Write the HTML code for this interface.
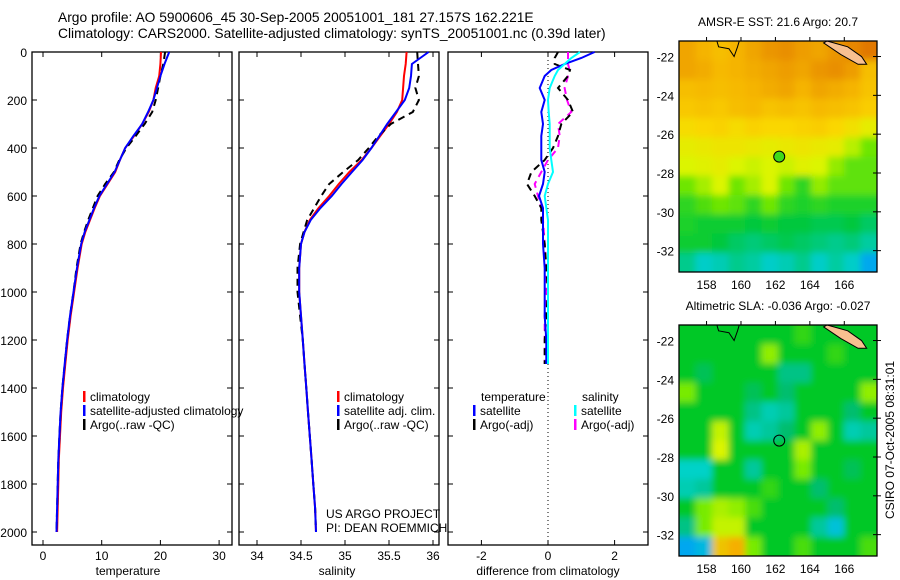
<!DOCTYPE html>
<html><head><meta charset="utf-8">
<style>
html,body{margin:0;padding:0;background:#fff;}
svg{display:block;font-family:"Liberation Sans",sans-serif;}
</style></head>
<body>
<svg id="c" width="900" height="580" viewBox="0 0 900 580" xmlns="http://www.w3.org/2000/svg">
<defs>
<filter id="blur" x="-5%" y="-5%" width="110%" height="110%"><feGaussianBlur stdDeviation="3.5"/></filter>
<clipPath id="clip-sst-map"><rect x="679" y="41" width="198" height="231"/></clipPath>
<clipPath id="clip-sla-map"><rect x="679" y="325" width="198" height="231"/></clipPath>
</defs>
<text x="58" y="22" font-size="13.8">Argo profile: AO 5900606_45 30-Sep-2005 20051001_181 27.157S 162.221E</text>
<text x="58" y="38" font-size="13.8">Climatology: CARS2000. Satellite-adjusted climatology: synTS_20051001.nc (0.39d later)</text>
<g id="g"></g>
</svg>
<script>
// ---------- data ----------
const depthT = [0,50,100,150,200,250,300,350,400,450,500,550,600,650,700,750,800,900,1000,1100,1200,1300,1400,1500,1600,1700,1800,1900,2000];
const tempClim = [20.1,20.0,19.8,19.2,18.8,18.0,16.9,15.5,14.0,13.1,12.3,11.0,9.7,8.8,8.0,7.2,6.6,5.9,5.3,4.7,4.2,3.8,3.4,3.1,2.9,2.7,2.6,2.5,2.4];
const tempSat = [21.5,20.7,20.0,19.4,18.8,17.9,16.9,15.4,14.0,13.1,12.2,10.9,9.6,8.7,7.9,7.1,6.5,5.8,5.2,4.6,4.1,3.7,3.3,3.0,2.8,2.6,2.5,2.4,2.3];
const tempArgo = [20.8,20.5,20.0,19.6,19.2,18.6,17.3,15.8,14.2,13.0,12.1,10.6,9.3,8.5,7.7,7.0,6.4,5.7,5.2,4.6,4.1,3.7,3.3,3.0,2.8,2.6,2.5,2.4,2.3];
const salClim = [35.70,35.69,35.67,35.66,35.65,35.59,35.50,35.40,35.30,35.19,35.05,34.93,34.82,34.70,34.60,34.54,34.50,34.48,34.48,34.50,34.52,34.54,34.56,34.58,34.60,34.62,34.64,34.66,34.67];
const salSat = [35.95,35.76,35.75,35.73,35.68,35.58,35.48,35.39,35.30,35.20,35.08,34.96,34.85,34.72,34.61,34.54,34.50,34.48,34.48,34.50,34.52,34.54,34.56,34.58,34.60,34.62,34.64,34.66,34.67];
const salArgo = [35.82,35.83,35.84,35.80,35.84,35.77,35.52,35.38,35.27,35.15,34.98,34.82,34.73,34.65,34.57,34.53,34.49,34.46,34.46,34.49,34.52,34.54,34.56,34.58,34.60,34.62,34.64,34.66,34.67];
const depthD = [0,25,50,75,100,150,200,250,300,350,400,450,500,550,600,650,700,800,900,1000,1100,1200,1300];
const dTempSat = [1.4,1.0,0.5,0.1,-0.1,-0.25,-0.1,-0.2,-0.15,-0.2,-0.2,-0.2,-0.1,-0.15,-0.27,-0.15,-0.15,-0.15,-0.1,-0.1,-0.1,-0.05,-0.05];
const dSalSat = [0.96,0.7,0.5,0.3,0.2,0.05,0,0.02,0.05,0.05,0.05,0.1,0.15,0.0,-0.1,-0.05,0,0,0,0,0,0,0];
const dTempArgo = [0.3,0.2,0.2,0.66,0.6,0.3,0.6,0.75,0.4,0.3,0.15,-0.1,-0.5,-0.63,-0.4,-0.2,-0.2,-0.1,-0.05,0,-0.05,-0.1,-0.1];
const dSalArgo = [0.6,0.6,0.6,0.65,0.6,0.5,0.57,0.7,0.3,0.35,0.3,0.0,-0.2,-0.4,-0.3,-0.2,-0.15,-0.1,-0.05,-0.05,-0.1,-0.1,-0.1];
const sstGrid = [
[23.2,23.0,22.8,23.0,23.2,23.4,23.5,23.3,23.2,23.4,23.6,23.8],
[23.2,23.1,22.9,23.0,23.1,23.2,23.3,23.2,23.4,23.5,23.3,22.8],
[22.8,22.9,22.8,22.9,23.0,23.1,23.2,23.0,23.2,23.1,23.0,22.7],
[22.6,22.7,22.6,22.8,22.9,22.7,22.8,22.7,22.9,22.8,22.7,22.5],
[22.2,22.3,22.4,22.2,22.4,22.3,22.3,22.4,22.5,22.3,22.1,21.8],
[21.8,21.9,22.0,22.0,21.9,21.8,21.9,22.0,21.9,21.8,21.4,21.0],
[21.6,21.7,21.8,21.6,21.5,21.6,21.5,21.7,21.6,21.2,20.9,20.9],
[21.0,21.3,21.6,21.0,21.3,21.6,21.0,20.6,21.2,20.9,20.9,20.9],
[20.6,20.8,21.0,20.9,20.6,21.0,20.6,20.5,20.6,20.5,20.5,20.5],
[20.5,20.4,20.4,20.4,20.3,20.4,20.3,20.3,20.2,20.2,20.3,20.1],
[20.4,20.4,20.3,20.1,20.0,20.1,20.2,20.1,20.0,19.9,20.0,19.8],
[19.9,19.6,19.7,19.9,19.8,19.6,19.7,19.9,19.6,19.8,19.6,19.2]];
const slaGrid = [
[0,0,0,0,0,0,0,0.02,0,0,0,0],
[0,0,0,0,0,0.06,0,0,0,0.02,0,0],
[0,-0.02,0,0,0,0,-0.04,-0.04,0,0,0,0],
[0.05,0,0,0,-0.02,0,-0.03,0,0,0,0,0.06],
[0,0,0,0,-0.04,-0.06,-0.05,0,0,0,-0.03,0],
[0,0,0.08,0,-0.06,-0.05,-0.03,0,0.06,0,-0.06,-0.05],
[0,0,0.09,0,0,0,0,0.07,0,0,0,0],
[-0.07,-0.07,0,0,-0.05,0,0,0.05,0,0,-0.02,0],
[-0.06,-0.05,0,0,0,0.02,0,0,-0.03,0,0,0],
[0,0.05,0.07,0.06,0.03,0,0,0,0,-0.03,0,0],
[-0.04,0.05,0.08,0.08,0,0,0,0,-0.05,-0.09,0,0],
[-0.12,-0.10,0.14,0.16,0.05,0,0,0.03,0,0,0,0.03]];
const depthTicks = [0,200,400,600,800,1000,1200,1400,1600,1800,2000];
const tempTicks = [0,10,20,30];
const salTicks = [34,34.5,35,35.5,36];
const diffTicks = [-2,0,2];
const latTicks = [-22,-24,-26,-28,-30,-32];
const lonTicks = [158,160,162,164,166];
const argoLon = 162.221, argoLat = -27.157;

// ---------- helpers ----------
const NS="http://www.w3.org/2000/svg";
const G=document.getElementById('g');
function mk(tag,at,parent){const e=document.createElementNS(NS,tag);for(const k in at)e.setAttribute(k,at[k]);(parent||G).appendChild(e);return e;}
const Y=d=>52+d*0.24;
const XT=v=>43+v*5.87;
const XS=v=>257+(v-34)*88;
const XD=v=>548+v*33.3;

function frame(name,x0,x1,y0,y1){
  const r=mk('rect',{x:x0,y:y0,width:x1-x0,height:y1-y0,fill:'none',stroke:'#000','stroke-width':1.3});
  
  
}
function xticks(name,ticks,f,y0,y1,labels){
  ticks.forEach(t=>{
    const x=f(t);
    mk('line',{x1:x,x2:x,y1:y0,y2:y0+5,stroke:'#000'});
    mk('line',{x1:x,x2:x,y1:y1,y2:y1-5,stroke:'#000'});
    if(labels){const tx=mk('text',{x:x,y:y1+15,'font-size':12,'text-anchor':'middle'});tx.textContent=String(t);
      
      }
  });
}
function yticks(x0,x1){
  depthTicks.forEach(d=>{const y=Y(d);
    mk('line',{x1:x0,x2:x0+5,y1:y,y2:y,stroke:'#000'});
    mk('line',{x1:x1,x2:x1-5,y1:y,y2:y,stroke:'#000'});});
}
function line(name,xs,ds,f,color,dash,w){
  const pts=xs.map((v,i)=>f(v).toFixed(1)+','+Y(ds[i]).toFixed(1)).join(' ');
  const p=mk('polyline',{points:pts,fill:'none',stroke:color,'stroke-width':w||2,'stroke-dasharray':dash||'none'});
  
  
}
function txt(name,s,x,y,size,anchor){
  const t=mk('text',{x:x,y:y,'font-size':size||12,'text-anchor':anchor||'start'});t.textContent=s;
  
  
  return t;
}
function legend(name,x,y,color,label){
  const r=mk('rect',{x:x,y:y-10,width:2.5,height:11,fill:color});
  
  
  txt(name,label,x+7,y,12);
}

// ---------- panel 1: temperature ----------
frame('temperature-panel',32,232,52,545);
xticks('temperature',tempTicks,XT,52,545,true);
yticks(32,232);
depthTicks.forEach(d=>txt('depth-tick-label',String(d),27,Y(d)+5,12,'end'));
line('temp-climatology-line',tempClim,depthT,XT,'#f00');
line('temp-argo-line',tempArgo,depthT,XT,'#000','7,5');
line('temp-satellite-line',tempSat,depthT,XT,'#00f');
txt('temperature-axis-title','temperature',128,575,12,'middle');
legend('legend-climatology',83,401,'#f00','climatology');
legend('legend-satellite-adjusted',83,415,'#00f','satellite-adjusted climatology');
legend('legend-argo',83,429,'#000','Argo(..raw -QC)');

// ---------- panel 2: salinity ----------
frame('salinity-panel',239,439,52,545);
xticks('salinity',salTicks,XS,52,545,true);
yticks(239,439);
line('sal-climatology-line',salClim,depthT,XS,'#f00');
line('sal-argo-line',salArgo,depthT,XS,'#000','7,5');
line('sal-satellite-line',salSat,depthT,XS,'#00f');
txt('salinity-axis-title','salinity',337,575,12,'middle');
legend('legend2-climatology',337,401,'#f00','climatology');
legend('legend2-satellite',337,415,'#00f','satellite adj. clim.');
legend('legend2-argo',337,429,'#000','Argo(..raw -QC)');
txt('project-credit','US ARGO PROJECT',326,518,12);
txt('pi-credit','PI: DEAN ROEMMICH',326,532,12);

// ---------- panel 3: differences ----------
frame('difference-panel',448,648,52,545);
xticks('difference',diffTicks,XD,52,545,true);
yticks(448,648);
mk('line',{x1:XD(0),x2:XD(0),y1:52,y2:545,stroke:'#000','stroke-dasharray':'1,3'});
line('diff-sal-argo-line',dSalArgo,depthD,XD,'#f0f','7,5');
line('diff-temp-argo-line',dTempArgo,depthD,XD,'#000','7,5');
line('diff-temp-satellite-line',dTempSat,depthD,XD,'#00f');
line('diff-sal-satellite-line',dSalSat,depthD,XD,'#0ff');
txt('difference-axis-title','difference from climatology',548,575,12,'middle');
txt('legend3-temperature-header','temperature',481,401,12);
legend('legend3-temp-satellite',473,415,'#00f','satellite');
legend('legend3-temp-argo',473,429,'#000','Argo(-adj)');
txt('legend3-salinity-header','salinity',582,401,12);
legend('legend3-sal-satellite',574,415,'#0ff','satellite');
legend('legend3-sal-argo',574,429,'#f0f','Argo(-adj)');

// ---------- maps ----------
function sstColor(v){
  const stops=[[19.0,[0,150,255]],[19.6,[0,205,200]],[20.3,[0,200,60]],[21.0,[110,230,0]],[21.6,[220,245,0]],[22.3,[250,215,0]],[23.0,[245,180,0]],[23.8,[225,120,0]]];
  return ramp(stops,v);
}
function slaColor(v){
  const stops=[[-0.14,[0,150,255]],[-0.07,[0,210,200]],[-0.03,[0,190,110]],[0,[0,200,40]],[0.05,[120,235,0]],[0.09,[220,245,0]],[0.16,[245,175,0]]];
  return ramp(stops,v);
}
function ramp(stops,v){
  if(v<=stops[0][0])return 'rgb('+stops[0][1]+')';
  for(let i=1;i<stops.length;i++){if(v<=stops[i][0]){const a=stops[i-1],b=stops[i],t=(v-a[0])/(b[0]-a[0]);
    return 'rgb('+a[1].map((c,k)=>Math.round(c+(b[1][k]-c)*t)).join(',')+')';}}
  return 'rgb('+stops[stops.length-1][1]+')';
}
function map(name,grid,colorFn,y0,title){
  const x0=679,x1=877,y1=y0+231;
  const lon0=156.4,lon1=167.9,lat0=-21.2,lat1=-33.1;
  const LX=l=>x0+(l-lon0)/(lon1-lon0)*(x1-x0);
  const LY=l=>y0+(l-lat0)/(lat1-lat0)*(y1-y0);
  const rows=grid.length,cols=grid[0].length,cw=(x1-x0)/cols,ch=(y1-y0)/rows;
  const clipG=mk('g',{'clip-path':'url(#clip-'+name+')'});
  const cg=mk('g',{filter:'url(#blur)'},clipG);
  // pad edges so blur does not fade at borders
  grid.forEach((row,r)=>row.forEach((v,c)=>{
    const px=c===0?x0-10:x0+c*cw, pw=(c===0||c===cols-1)?cw+10.6:cw+0.6;
    const py=r===0?y0-10:y0+r*ch, ph=(r===0||r===rows-1)?ch+10.6:ch+0.6;
    const cell=mk('rect',{x:px,y:py,width:pw,height:ph,fill:colorFn(v)},cg);
    
    
  }));
  const isl=mk('polygon',{points:[[165.0,-21.2],[166.2,-21.5],[167.0,-22.0],[167.3,-22.4],[166.8,-22.4],[165.8,-21.9],[164.8,-21.3]].map(p=>LX(p[0])+','+LY(p[1])).join(' '),fill:'#f8c090',stroke:'#000','stroke-width':1});
  
  
  mk('polyline',{points:[[158.6,-21.2],[158.7,-21.5],[159.3,-21.6],[159.6,-22.0],[159.8,-21.5],[159.9,-21.2]].map(p=>LX(p[0])+','+LY(p[1])).join(' '),fill:'none',stroke:'#000'});
  frame(name+'-frame',x0,x1,y0,y1);
  latTicks.forEach(l=>{const y=LY(l);mk('line',{x1:x1,x2:x1-4,y1:y,y2:y,stroke:'#000'});mk('line',{x1:x1,x2:x1+4,y1:y,y2:y,stroke:'#000'});
    txt(name+'-lat-label',String(l),674,y+5,12,'end');});
  lonTicks.forEach(l=>{const x=LX(l);mk('line',{x1:x,x2:x,y1:y0,y2:y0-4,stroke:'#000'});
    txt(name+'-lon-label',String(l),x,y1+17,12,'middle');});
  const ci=mk('circle',{cx:LX(argoLon),cy:LY(argoLat),r:5.5,fill:name==='sst-map'?colorFn(20.7):'none',stroke:'#000','stroke-width':1});
  
  
  txt(name+'-title',title,778,y0-15,12,'middle');
}
map('sst-map',sstGrid,sstColor,41,'AMSR-E SST: 21.6 Argo: 20.7');
map('sla-map',slaGrid,slaColor,325,'Altimetric SLA: -0.036 Argo: -0.027');
const cs=txt('csiro-timestamp','CSIRO 07-Oct-2005 08:31:01',0,0,12,'middle');
cs.setAttribute('transform','translate(894,440) rotate(-90)');
</script>
</body></html>
